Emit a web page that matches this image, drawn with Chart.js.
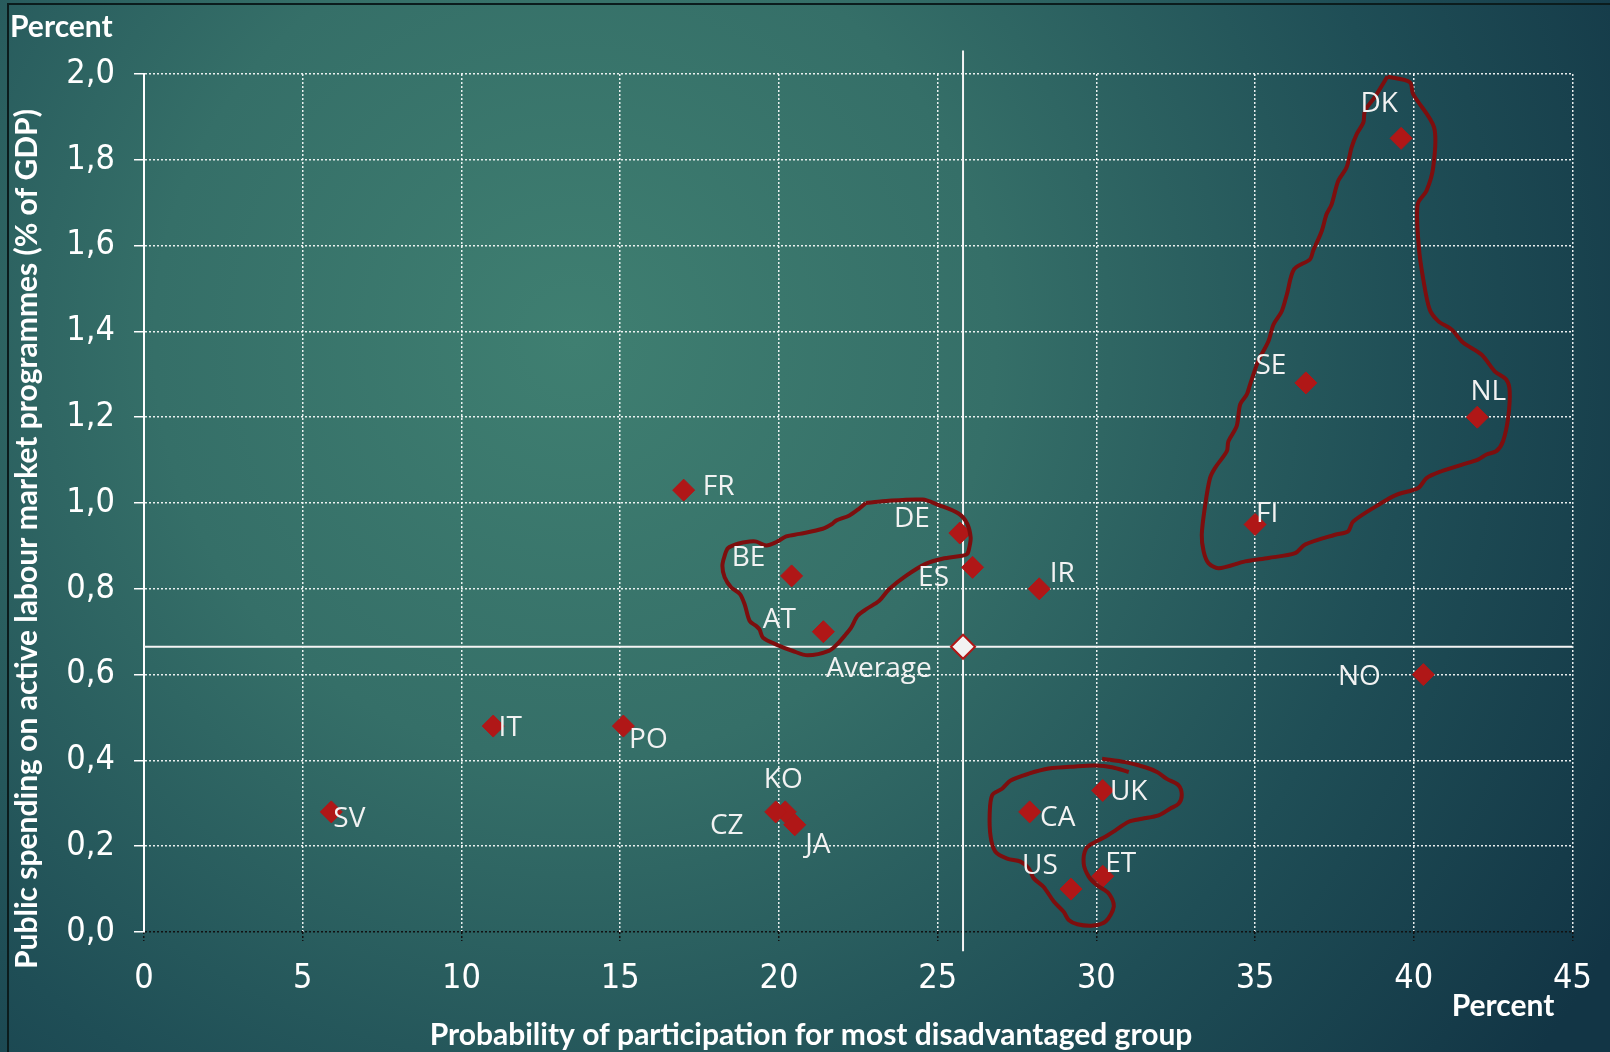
<!DOCTYPE html>
<html>
<head>
<meta charset="utf-8">
<title>Participation vs active labour market spending</title>
<script src="https://cdn.jsdelivr.net/npm/chart.js@4.4.1/dist/chart.umd.min.js"></script>
<style>
  html, body { margin: 0; padding: 0; background: #1d4f55; }
  #wrap { width: 1610px; height: 1052px; }
</style>
</head>
<body>
<div id="wrap"><canvas id="scatterChart" width="1610" height="1052"></canvas></div>
<script>
// Country codes, participation probability (%) and ALMP spending (% of GDP)
const countries = ['DK', 'SE', 'NL', 'FI', 'NO', 'FR', 'DE', 'ES', 'IR', 'BE', 'AT',
                   'IT', 'PO', 'SV', 'KO', 'CZ', 'JA', 'CA', 'UK', 'US', 'ET'];
const participation = [39.6, 36.6, 42.0, 35.0, 40.3, 17.0, 25.7, 26.1, 28.2, 20.4, 21.4,
                       11.0, 15.1, 5.9, 20.2, 19.9, 20.5, 27.9, 30.2, 29.2, 30.2];
const spending = [1.85, 1.28, 1.20, 0.95, 0.60, 1.03, 0.93, 0.85, 0.80, 0.83, 0.70,
                  0.48, 0.48, 0.28, 0.28, 0.28, 0.25, 0.28, 0.33, 0.10, 0.13];
const averageX = 25.8;
const averageY = 0.665;

const xTickLabels = ['0', '5', '10', '15', '20', '25', '30', '35', '40', '45'];
const yTickLabels = ['0,0', '0,2', '0,4', '0,6', '0,8', '1,0', '1,2', '1,4', '1,6', '1,8', '2,0'];

// Hand-drawn group outlines, in data units
const nordicLoop = [
  [39.17, 1.994], [39.87, 1.981], [39.98, 1.953], [40.64, 1.875], [40.61, 1.782], [40.40, 1.728],
  [40.12, 1.696], [40.16, 1.595], [40.29, 1.525], [40.50, 1.451], [40.77, 1.424], [41.18, 1.405],
  [41.55, 1.374], [42.13, 1.346], [42.55, 1.307], [42.91, 1.288], [43.02, 1.261], [42.97, 1.198],
  [42.81, 1.144], [42.60, 1.121], [42.29, 1.113], [42.02, 1.101], [41.50, 1.089], [40.87, 1.074],
  [40.40, 1.058], [40.14, 1.035], [39.45, 1.019], [38.98, 1.000], [38.09, 0.957], [37.93, 0.934],
  [37.52, 0.926], [36.57, 0.903], [36.26, 0.883], [35.42, 0.872], [34.69, 0.864], [33.85, 0.848],
  [33.53, 0.860], [33.38, 0.887], [33.32, 0.926], [33.43, 0.996], [33.58, 1.058], [33.74, 1.082],
  [34.11, 1.121], [34.16, 1.144], [34.42, 1.179], [34.53, 1.230], [34.74, 1.253], [34.84, 1.276],
  [35.10, 1.331], [35.42, 1.377], [35.58, 1.416], [35.84, 1.447], [36.00, 1.486], [36.23, 1.545],
  [36.73, 1.568], [36.83, 1.588], [37.10, 1.634], [37.25, 1.673], [37.41, 1.696], [37.62, 1.751],
  [37.88, 1.782], [38.04, 1.829], [38.20, 1.860], [38.41, 1.887], [38.46, 1.914], [38.77, 1.946],
  [39.17, 1.994]
];
const centralLoop = [
  [22.74, 1.000], [23.26, 1.004], [24.52, 1.008], [25.04, 0.995], [25.67, 0.975], [25.93, 0.952],
  [26.04, 0.920], [26.00, 0.897], [25.93, 0.881], [25.77, 0.877], [25.15, 0.870], [24.62, 0.858],
  [24.00, 0.830], [23.47, 0.799], [23.16, 0.772], [22.74, 0.752], [22.48, 0.737], [22.27, 0.709],
  [22.11, 0.694], [21.85, 0.672], [21.59, 0.656], [20.91, 0.645], [20.44, 0.655], [19.92, 0.670],
  [19.50, 0.686], [19.39, 0.705], [19.29, 0.713], [19.08, 0.725], [18.92, 0.764], [18.77, 0.788],
  [18.50, 0.803], [18.29, 0.827], [18.22, 0.854], [18.29, 0.877], [18.40, 0.895], [18.71, 0.905],
  [19.08, 0.910], [19.29, 0.910], [19.60, 0.901], [19.92, 0.909], [20.23, 0.922], [20.65, 0.928],
  [21.38, 0.940], [21.69, 0.952], [21.80, 0.959], [22.22, 0.971], [22.53, 0.987], [22.74, 1.000]
];
const anglophoneLoop = [
  [31.02, 0.373], [30.49, 0.384], [29.97, 0.388], [29.34, 0.386], [28.50, 0.381], [27.87, 0.369],
  [27.30, 0.353], [27.03, 0.334], [26.72, 0.319], [26.64, 0.276], [26.67, 0.222], [26.82, 0.187],
  [27.19, 0.171], [27.61, 0.164], [27.87, 0.148], [28.03, 0.125], [28.34, 0.105], [28.66, 0.071],
  [28.97, 0.047], [29.13, 0.028], [29.40, 0.018], [29.90, 0.015], [30.30, 0.025], [30.55, 0.060],
  [30.39, 0.090], [30.02, 0.109], [29.76, 0.129], [29.60, 0.160], [29.68, 0.195], [29.97, 0.210],
  [30.28, 0.222], [30.60, 0.237], [31.02, 0.257], [31.44, 0.264], [31.96, 0.272], [32.33, 0.288],
  [32.59, 0.299], [32.69, 0.319], [32.59, 0.342], [32.22, 0.357], [31.91, 0.373], [31.54, 0.384],
  [30.91, 0.396], [30.18, 0.404]
];

// where each country label sits relative to its marker (px)
const labelOffset = {
  DK: [-22, -34], SE: [-35, -17], NL: [11, -25], FI: [12, -10], NO: [-64, 2],
  FR: [35, -3], DE: [-48, -14], ES: [-39, 11], IR: [23, -15], BE: [-43, -18],
  AT: [-44, -12], IT: [17, 2], PO: [25, 14], SV: [18, 7], KO: [-2, -32],
  CZ: [-49, 14], JA: [23, 20], CA: [28, 6], UK: [26, 2], US: [-31, -23], ET: [18, -12]
};

const RED = '#b01717';
const LOOP = '#7d0e0e';
const TITLE_FONT = 'bold 30px Lato, "Open Sans", sans-serif';
const LABEL_FONT = '28px "Open Sans", sans-serif';
const TICK_FONT = { family: '"Liberation Sans Narrow", "DejaVu Sans Condensed", sans-serif', size: 34 };

const toXY = pts => pts.map(p => ({ x: p[0], y: p[1] }));

const loopDataset = pts => ({
  data: toXY(pts),
  showLine: true,
  borderColor: LOOP,
  borderWidth: 4,
  pointRadius: 0,
  tension: 0.3,
  order: 0
});

const background = {
  id: 'background',
  beforeDraw(chart) {
    const { ctx, width, height } = chart;
    ctx.save();
    const g = ctx.createRadialGradient(575, 340, 0, 575, 340, 1200);
    g.addColorStop(0, '#3f7f71');
    g.addColorStop(0.35, '#356f68');
    g.addColorStop(0.7, '#1f4e56');
    g.addColorStop(1, '#123545');
    ctx.fillStyle = g;
    ctx.fillRect(0, 0, width, height);
    ctx.strokeStyle = '#0b1c1d';
    ctx.lineWidth = 2;
    ctx.strokeRect(8, 4, width, height);
    ctx.restore();
  }
};

const annotations = {
  id: 'annotations',
  afterDatasetsDraw(chart) {
    const { ctx } = chart;
    const xs = chart.scales.x, ys = chart.scales.y;
    ctx.save();
    ctx.fillStyle = '#f2f2f2';
    ctx.font = LABEL_FONT;
    ctx.textAlign = 'center';
    ctx.textBaseline = 'middle';
    countries.forEach((c, i) => {
      const off = labelOffset[c];
      ctx.fillText(c, xs.getPixelForValue(participation[i]) + off[0],
                   ys.getPixelForValue(spending[i]) + off[1]);
    });
    ctx.fillText('Average', xs.getPixelForValue(averageX) - 84, ys.getPixelForValue(averageY) + 22);
    ctx.restore();
  },
  afterDraw(chart) {
    const { ctx } = chart;
    ctx.save();
    ctx.fillStyle = '#ffffff';
    ctx.font = TITLE_FONT;
    ctx.textBaseline = 'middle';
    ctx.textAlign = 'left';
    ctx.fillText('Percent', 10, 27);
    ctx.textAlign = 'center';
    ctx.fillText('Percent', 1503, 1006);
    ctx.fillText('Probability of participation for most disadvantaged group', 811, 1035);
    ctx.translate(27, 539);
    ctx.rotate(-Math.PI / 2);
    ctx.fillText('Public spending on active labour market programmes (% of GDP)', 0, 0);
    ctx.restore();
  }
};

new Chart(document.getElementById('scatterChart'), {
  type: 'scatter',
  data: {
    datasets: [
      loopDataset(nordicLoop),
      loopDataset(centralLoop),
      loopDataset(anglophoneLoop),
      {
        label: 'Average',
        data: [{ x: averageX, y: averageY }],
        pointStyle: 'rectRot',
        pointRadius: 12,
        backgroundColor: '#f2f2f2',
        borderColor: RED,
        borderWidth: 2,
        order: 1
      },
      {
        label: 'Countries',
        data: participation.map((x, i) => ({ x: x, y: spending[i] })),
        pointStyle: 'rectRot',
        pointRadius: 11,
        backgroundColor: RED,
        borderColor: RED,
        borderWidth: 1,
        order: 2
      },
      {
        // average lines
        data: [{ x: averageX, y: -0.045 }, { x: averageX, y: 2.055 }],
        showLine: true, clip: false,
        borderColor: '#f4f4f4', borderWidth: 2, pointRadius: 0, order: 3
      },
      {
        data: [{ x: 0, y: averageY }, { x: 45, y: averageY }],
        showLine: true,
        borderColor: '#f4f4f4', borderWidth: 2, pointRadius: 0, order: 3
      }
    ]
  },
  options: {
    responsive: false,
    animation: false,
    layout: { padding: { top: 74, right: 35, left: 0, bottom: 0 } },
    plugins: { legend: { display: false }, tooltip: { enabled: false } },
    scales: {
      x: {
        type: 'linear', min: 0, max: 45,
        ticks: {
          stepSize: 5, color: '#ffffff', font: TICK_FONT, padding: 18,
          callback: (v, i) => xTickLabels[i]
        },
        grid: {
          color: 'rgba(255,255,255,0.9)', lineWidth: 1.5,
          tickColor: '#111111', tickLength: 9, tickBorderDash: [2, 2]
        },
        border: { display: false, dash: [2, 2] },
        afterFit: s => { s.height = 120; }
      },
      y: {
        type: 'linear', min: 0, max: 2,
        ticks: {
          stepSize: 0.2, color: '#ffffff', font: TICK_FONT, padding: 19,
          callback: (v, i) => yTickLabels[i]
        },
        grid: {
          color: c => (c.tick && c.tick.value === 0 ? '#111111' : 'rgba(255,255,255,0.9)'),
          lineWidth: 1.5, tickColor: '#ffffff', tickLength: 10, tickBorderDash: []
        },
        border: { display: true, color: '#ffffff', width: 2, dash: [2, 2] },
        afterFit: s => { s.width = 144; }
      }
    }
  },
  plugins: [background, annotations]
});
</script>
</body>
</html>
